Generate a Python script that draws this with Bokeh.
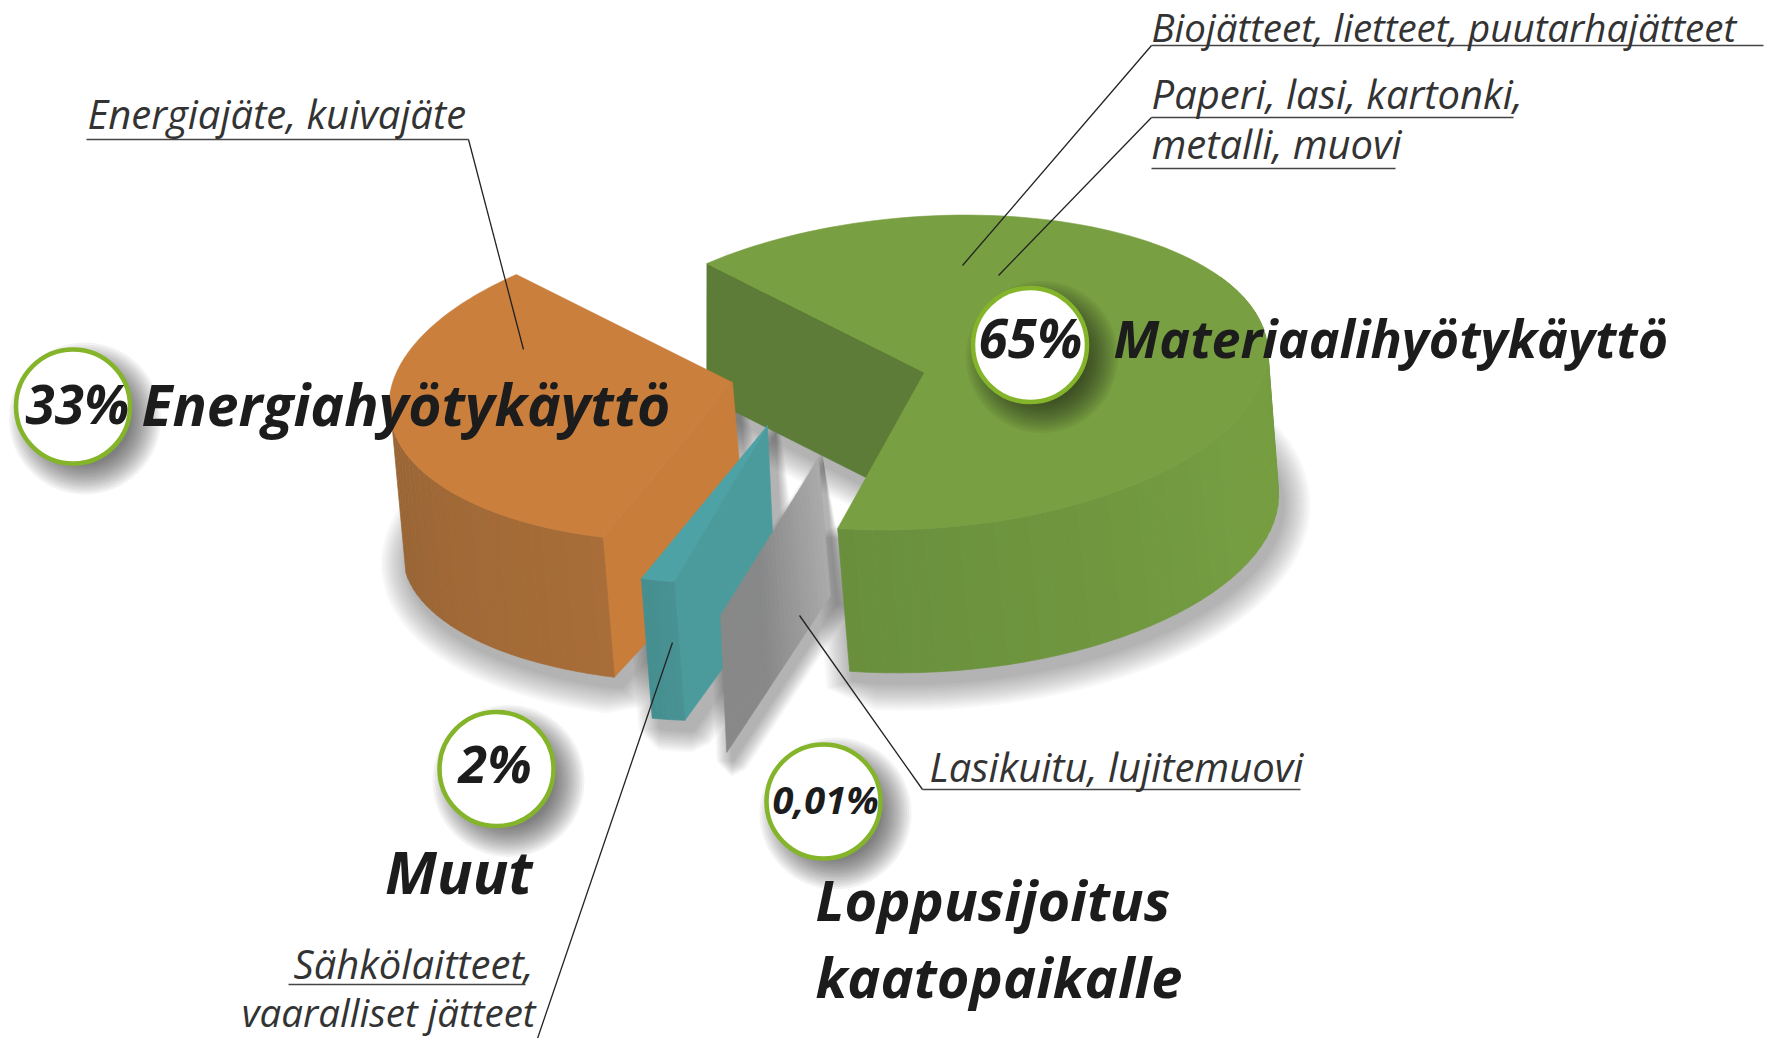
import math
from bokeh.plotting import figure
from bokeh.models import Range1d
from bokeh.core.properties import value
from bokeh.embed import file_html
from bokeh.resources import INLINE

# ---- data ----
categories = ["Materiaalihyötykäyttö", "Loppusijoitus kaatopaikalle", "Muut", "Energiahyötykäyttö"]
shares = [65, 0.01, 2, 33]
pct_labels = ["65%", "0,01%", "2%", "33%"]
note_labels = ["Biojätteet, lietteet, puutarhajätteet", "Paperi, lasi, kartonki,", "metalli, muovi",
               "Energiajäte, kuivajäte", "Lasikuitu, lujitemuovi", "Sähkölaitteet,", "vaaralliset jätteet"]

# ---- perspective of each exploded slice: centre x, y and affine rim terms (top, bottom) ----
START = 132.0
proj = {
    "green":  ((924, 372, 343, 16, 11.5, 157), (931, 510, 347, 10, 11, 162)),
    "gray":   ((818, 458, 340, 28, 12, 158), (830, 595, 340, 34, 12, 158)),
    "teal":   ((767, 425, 281, 35.7, 17.5, 156), (775, 595, 280, 33, 17, 124)),
    "orange": ((732, 382, 343, 18, 14.9, 158.7), (745, 535, 342, 19.6, 10, 146.6)),
}

def rim(pr, deg):
    cx, cy, a, b, c, d = pr
    t = math.radians(deg)
    return cx + a*math.cos(t) + b*math.sin(t), cy - (c*math.cos(t) + d*math.sin(t))

def mix(c1, c2, f):
    return "#%02x%02x%02x" % tuple(round(c1[i] + (c2[i]-c1[i])*f) for i in range(3))

total = sum(shares)
spans = {}
a0 = START
for key, s in zip(["green", "gray", "teal", "orange"], shares):
    a1 = a0 - 360*s/total
    spans[key] = (a0, a1)
    a0 = a1

p = figure(width=1775, height=1038, x_range=Range1d(0, 1775), y_range=Range1d(1038, 0),
           x_axis_type=None, y_axis_type=None, toolbar_location=None, output_backend="svg",
           min_border=0, outline_line_color=None, background_fill_color="white")
p.grid.visible = False

def poly(xs, ys, color, alpha=1.0):
    p.patch(xs, ys, fill_color=color, line_color=color, line_width=0.6, fill_alpha=alpha, line_alpha=alpha)

def arc(pr, a, b, n):
    return [rim(pr, a + (b-a)*i/n) for i in range(n+1)]

def grow(pts, d):
    n = len(pts)
    area = sum(pts[i][0]*pts[(i+1) % n][1] - pts[(i+1) % n][0]*pts[i][1] for i in range(n))
    sgn = 1 if area > 0 else -1
    out = []
    for i in range(n):
        ax, ay = pts[i-1]; bx, by = pts[(i+1) % n]
        tx, ty = bx-ax, by-ay
        L = math.hypot(tx, ty) or 1
        out.append((pts[i][0] + sgn*d*ty/L, pts[i][1] - sgn*d*tx/L))
    return out

def shadow(pts, dx, dy, reach=28, steps=14, alpha=0.028):
    moved = [(x+dx, y+dy) for x, y in pts]
    for i in range(steps):
        g = grow(moved, reach*(1 - i/steps))
        p.patch([q[0] for q in g], [q[1] for q in g], fill_color="#222222", fill_alpha=alpha, line_color=None)

def outline(key):
    top, bot = proj[key]
    a, b = spans[key]
    T = arc(top, a, b, 60); B = arc(bot, a, b, 60)
    return [(top[0], top[1])] + T + B[::-1] + [(bot[0], bot[1])]

def side(key, a, b, n, c1, c2, reach=1.0):
    top, bot = proj[key]
    xs, ys, cols = [], [], []
    for i in range(n):
        f0, f1 = i/n, (i+1)/n
        q = [rim(top, a+(b-a)*f0), rim(top, a+(b-a)*f1), rim(bot, a+(b-a)*f1), rim(bot, a+(b-a)*f0)]
        xs.append([v[0] for v in q]); ys.append([v[1] for v in q])
        cols.append(mix(c1, c2, min(1, f0/reach)))
    p.patches(xs, ys, fill_color=cols, line_color=cols, line_width=0.7)

def wall(key, deg, color):
    top, bot = proj[key]
    q = [(top[0], top[1]), rim(top, deg), rim(bot, deg), (bot[0], bot[1])]
    poly([v[0] for v in q], [v[1] for v in q], color)

def face(key, color):
    top, _ = proj[key]
    a, b = spans[key]
    T = [(top[0], top[1])] + arc(top, a, b, 120)
    poly([v[0] for v in T], [v[1] for v in T], color)

# soft shadows
for key, d, r in (("green", (4, 10), 28), ("orange", (6, 10), 28), ("teal", (8, 10), 22), ("gray", (6, 8), 16)):
    shadow(outline(key), *d, reach=r)

# green slice
g0, g1 = spans["green"]
wall("green", g0, "#5c7c37")
side("green", g1, g1 + 135, 46, (0x69, 0x8f, 0x3d), (0x76, 0x9e, 0x41), 0.6)
face("green", "#789f41")

# orange slice
o0, o1 = spans["orange"]
wall("orange", o0, "#c87d3b")
side("orange", o0, o0 - 60, 26, (0xa8, 0x6d, 0x38), (0x99, 0x65, 0x35))
face("orange", "#ca7f3d")

# teal slice
t0, t1 = spans["teal"]
wall("teal", t0, "#4b9b9d")
side("teal", t0, t1, 6, (0x48, 0x92, 0x94), (0x44, 0x8e, 0x90))
face("teal", "#4da2a5")

# grey slice: practically only a plane
gt, gb = proj["gray"]
ga = spans["gray"][0]
n = 26
sx, sy, sc = [], [], []
for i in range(n):
    f0, f1 = i/n, (i+1)/n
    r1, r2 = rim(gt, ga), rim(gb, ga)
    q = [(gt[0]+(r1[0]-gt[0])*f0, gt[1]+(r1[1]-gt[1])*f0), (gt[0]+(r1[0]-gt[0])*f1, gt[1]+(r1[1]-gt[1])*f1),
         (gb[0]+(r2[0]-gb[0])*f1, gb[1]+(r2[1]-gb[1])*f1), (gb[0]+(r2[0]-gb[0])*f0, gb[1]+(r2[1]-gb[1])*f0)]
    sx.append([v[0] for v in q]); sy.append([v[1] for v in q])
    sc.append(mix((0xaa, 0xaa, 0xaa), (0x88, 0x88, 0x88), min(1, f0*1.7)))
p.patches(sx, sy, fill_color=sc, line_color=sc, line_width=0.6)

# leader lines and underlines
leaders = [
    ([1151, 1763], [45, 45], "#444444"), ([1151, 962], [45, 265], "#222222"),
    ([1151, 1513], [117, 117], "#444444"), ([1151, 998], [117, 275], "#222222"),
    ([1151, 1395], [168, 168], "#444444"),
    ([86, 468], [139, 139], "#444444"), ([468, 523], [139, 349], "#222222"),
    ([1300, 922], [789, 789], "#444444"), ([922, 799], [789, 615], "#222222"),
    ([288, 525], [984, 984], "#444444"), ([537, 672], [1038, 642], "#222222"),
]
for lx, ly, c in leaders:
    p.line(lx, ly, line_color=c, line_width=1.3)

# percent badges
badges = {"65%": (1029.5, 344.5), "0,01%": (823, 801), "2%": (496, 768.5), "33%": (72.5, 406)}
for lab in pct_labels:
    cx, cy = badges[lab]
    for k in range(14):
        r = 46 + 30*(1 - k/13)
        p.circle([cx+12], [cy+12], radius=r, fill_color="#111111", fill_alpha=0.05, line_color=None)
    p.circle([cx], [cy], radius=57, fill_color="white", line_color="#84b42a", line_width=4.5)

BASE = 0.385
def txt(s, x, y, size, style="bold italic", color="#1c1c1c", align="left"):
    p.text([x], [y - BASE*size], text=[s], text_font=value("Open Sans"), text_font_style=style,
           text_font_size=f"{size}px", text_color=color, text_align=align, text_baseline="alphabetic")

txt(pct_labels[3], 25, 423, 53)
txt(categories[3], 141, 425, 57)
txt(pct_labels[0], 978, 357, 53)
txt(categories[0], 1113, 357, 52)
txt(pct_labels[2], 458, 782, 52)
txt(categories[2], 532, 893, 59, align="right")
txt(pct_labels[1], 772, 813, 38)
txt("Loppusijoitus", 815, 920, 56)
txt("kaatopaikalle", 815, 997, 56)

nc = "#333333"
NS = 40
txt(note_labels[0], 1151, 41, 38.5, "italic", nc)
txt(note_labels[1], 1151, 108, NS, "italic", nc)
txt(note_labels[2], 1151, 158, NS, "italic", nc)
txt(note_labels[3], 87, 128, NS, "italic", nc)
txt(note_labels[4], 929, 781, NS, "italic", nc)
txt(note_labels[5], 533, 978, NS, "italic", nc, "right")
txt(note_labels[6], 535, 1026, 38.5, "italic", nc, "right")

open("out.html", "w").write(file_html(p, INLINE))
